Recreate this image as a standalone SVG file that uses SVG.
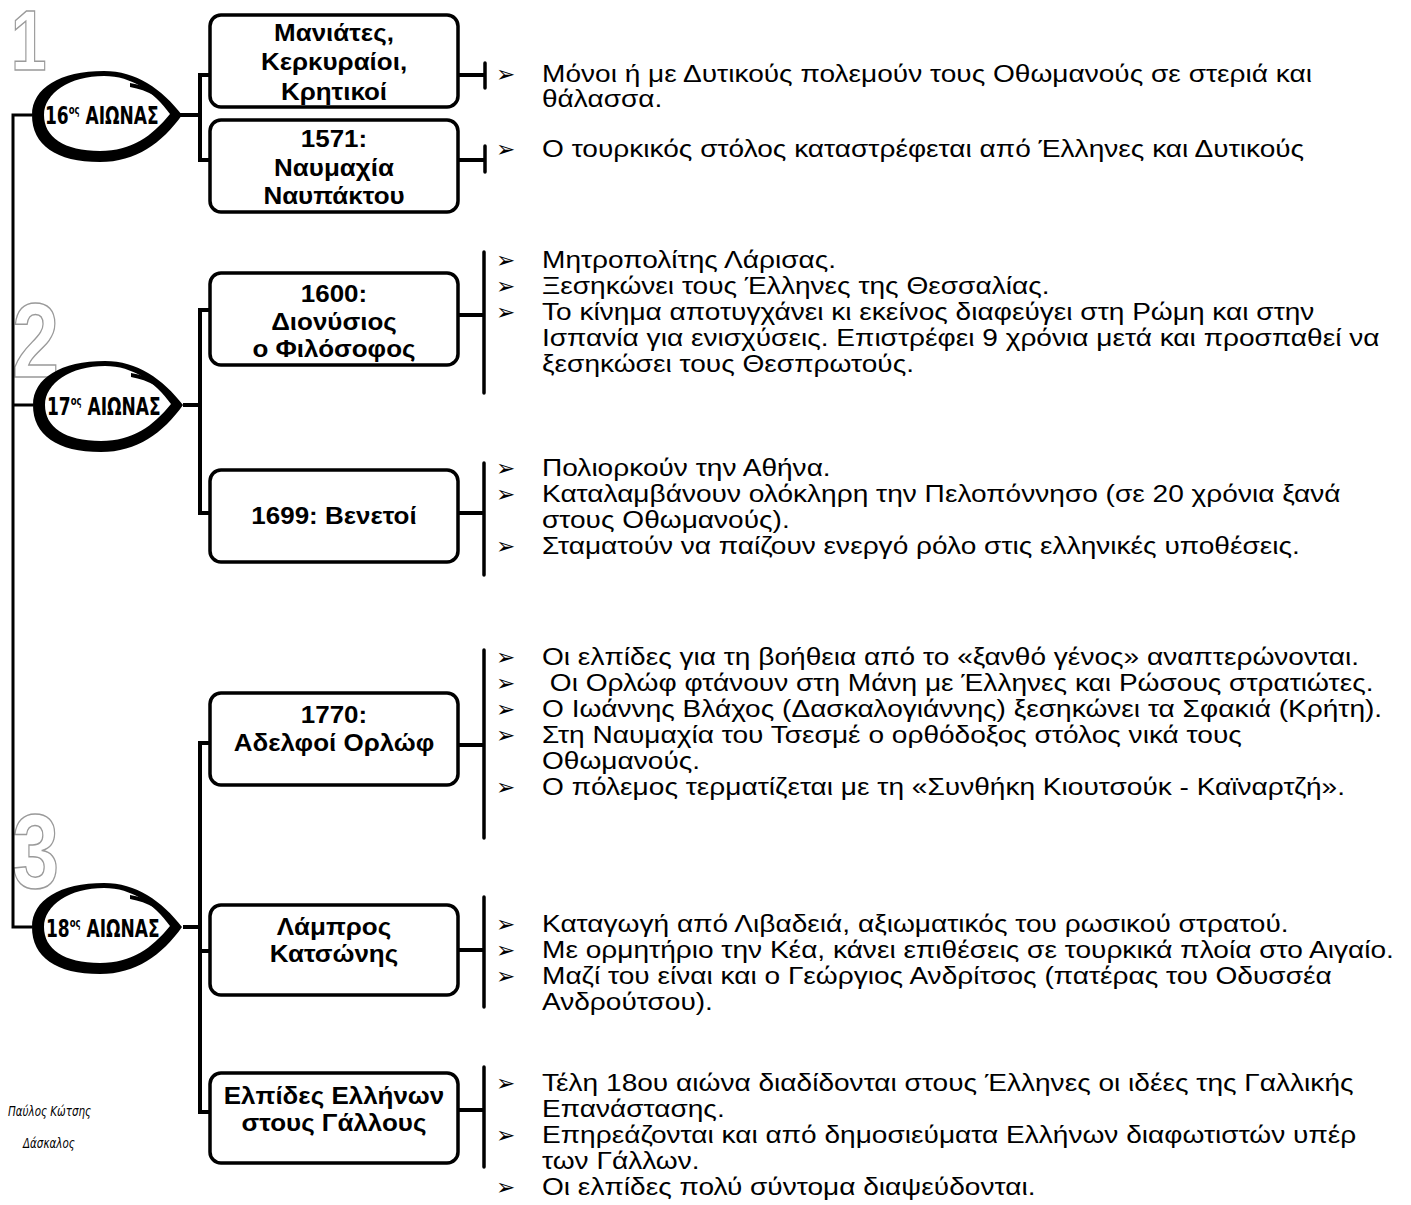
<svg xmlns="http://www.w3.org/2000/svg" width="1411" height="1205" viewBox="0 0 1411 1205">
<style>
.box{fill:#fff;stroke:#000;stroke-width:3.5}
.conn{fill:none;stroke:#000;stroke-width:4;stroke-linecap:square}
.spine{fill:none;stroke:#000;stroke-width:3}
.bar{fill:none;stroke:#000;stroke-width:3.5;stroke-linecap:round}
.bt{font-family:"Liberation Sans",Arial,sans-serif;font-weight:bold;font-size:24.5px;text-anchor:middle;fill:#000}
.t{font-family:"Liberation Sans",Arial,sans-serif;font-size:24px;fill:#000}
.bul{font-family:"DejaVu Sans",sans-serif;font-size:23px;fill:#000}
.cen{font-family:"DejaVu Sans Condensed","DejaVu Sans",sans-serif;font-weight:bold;font-size:24px;fill:#000}
.sup{font-size:12px}
.num{font-family:"Liberation Sans",Arial,sans-serif;font-weight:bold;fill:#fff;stroke:#9a9a9a;stroke-width:1.5}
.auth{font-family:"DejaVu Sans Condensed","DejaVu Sans",sans-serif;font-style:italic;font-size:14px;fill:#000}
</style>
<defs>
<path id="eye" fill-rule="evenodd" d="M0,0 C0,-27 28,-44 72,-44 C104,-44 130,-26 150,0 C130,28 104,47 68,47 C24,47 0,30 0,0 Z M12,0 C12,-22 38,-39 72,-39 C100,-39 122,-23 138,-1 C120,21 100,36 68,36 C32,36 12,22 12,0 Z"/>
<path id="swoosh" d="M98,-32 C118,-29 133,-19 142,-5 C130,-16 116,-25 98,-28 Z"/>
<clipPath id="clipB1"><rect x="212" y="17" width="244" height="88" rx="9"/></clipPath>
</defs>

<g id="numbers">
<text class="num" font-size="85" transform="translate(11,70) scale(0.75,1)">1</text>
<text class="num" font-size="106" transform="translate(12,377) scale(0.8,1)">2</text>
<text class="num" font-size="106" transform="translate(12,888) scale(0.8,1)">3</text>
</g>

<g id="connectors">
<polyline class="spine" points="32,115 13,115 13,927 32,927"/>
<line class="spine" x1="13" y1="405" x2="33" y2="405"/>
<line class="conn" x1="180" y1="115" x2="200" y2="115"/>
<polyline class="conn" points="210,75 200,75 200,160 210,160"/>
<line class="conn" x1="458" y1="75" x2="484" y2="75"/>
<line class="bar" x1="485" y1="63" x2="485" y2="88"/>
<line class="conn" x1="458" y1="160" x2="484" y2="160"/>
<line class="bar" x1="485" y1="146" x2="485" y2="172"/>
<line class="conn" x1="185" y1="405" x2="200" y2="405"/>
<polyline class="conn" points="210,310 200,310 200,513 210,513"/>
<line class="conn" x1="458" y1="315" x2="483" y2="315"/>
<line class="bar" x1="484" y1="252" x2="484" y2="393"/>
<line class="conn" x1="458" y1="513" x2="483" y2="513"/>
<line class="bar" x1="484" y1="463" x2="484" y2="575"/>
<line class="conn" x1="185" y1="927" x2="200" y2="927"/>
<polyline class="conn" points="210,743 200,743 200,1112 210,1112"/>
<line class="conn" x1="200" y1="951" x2="210" y2="951"/>
<line class="conn" x1="458" y1="745" x2="483" y2="745"/>
<line class="bar" x1="484" y1="650" x2="484" y2="838"/>
<line class="conn" x1="458" y1="950" x2="483" y2="950"/>
<line class="bar" x1="484" y1="897" x2="484" y2="1007"/>
<line class="conn" x1="458" y1="1110" x2="483" y2="1110"/>
<line class="bar" x1="484" y1="1067" x2="484" y2="1167"/>
</g>

<g id="c16">
<use href="#eye" transform="translate(32,115)"/>
<use href="#swoosh" transform="translate(32,115)"/>
<text class="cen" transform="translate(45,124) scale(0.79,1)">16<tspan class="sup" dy="-10">ος</tspan><tspan dy="10"> ΑΙΩΝΑΣ</tspan></text>
</g>
<g id="c17">
<use href="#eye" transform="translate(33,405)"/>
<use href="#swoosh" transform="translate(33,405)"/>
<text class="cen" transform="translate(47,415) scale(0.79,1)">17<tspan class="sup" dy="-10">ος</tspan><tspan dy="10"> ΑΙΩΝΑΣ</tspan></text>
</g>
<g id="c18">
<use href="#eye" transform="translate(32,927)"/>
<use href="#swoosh" transform="translate(32,927)"/>
<text class="cen" transform="translate(46,937) scale(0.79,1)">18<tspan class="sup" dy="-10">ος</tspan><tspan dy="10"> ΑΙΩΝΑΣ</tspan></text>
</g>

<g id="b1">
<rect class="box" x="210" y="15" width="248" height="92" rx="11"/>
<g clip-path="url(#clipB1)">
<text class="bt" transform="translate(334,0) scale(1.06,1)"><tspan x="0" y="41">Μανιάτες,</tspan><tspan x="0" y="70">Κερκυραίοι,</tspan><tspan x="0" y="100">Κρητικοί</tspan></text>
</g>
</g>
<g id="b2">
<rect class="box" x="210" y="120" width="248" height="92" rx="11"/>
<text class="bt" transform="translate(334,0) scale(1.06,1)"><tspan x="0" y="147">1571:</tspan><tspan x="0" y="176">Ναυμαχία</tspan><tspan x="0" y="204">Ναυπάκτου</tspan></text>
</g>
<g id="b3">
<rect class="box" x="210" y="273" width="248" height="92" rx="11"/>
<text class="bt" transform="translate(334,0) scale(1.06,1)"><tspan x="0" y="302">1600:</tspan><tspan x="0" y="330">Διονύσιος</tspan><tspan x="0" y="357">ο Φιλόσοφος</tspan></text>
</g>
<g id="b4">
<rect class="box" x="210" y="470" width="248" height="92" rx="11"/>
<text class="bt" transform="translate(334,0) scale(1.06,1)" x="0" y="524">1699: Βενετοί</text>
</g>
<g id="b5">
<rect class="box" x="210" y="693" width="248" height="92" rx="11"/>
<text class="bt" transform="translate(334,0) scale(1.06,1)"><tspan x="0" y="723">1770:</tspan><tspan x="0" y="751">Αδελφοί Ορλώφ</tspan></text>
</g>
<g id="b6">
<rect class="box" x="210" y="905" width="248" height="90" rx="11"/>
<text class="bt" transform="translate(334,0) scale(1.06,1)"><tspan x="0" y="935">Λάμπρος</tspan><tspan x="0" y="962">Κατσώνης</tspan></text>
</g>
<g id="b7">
<rect class="box" x="210" y="1073" width="248" height="90" rx="11"/>
<text class="bt" transform="translate(334,0) scale(1.06,1)"><tspan x="0" y="1104">Ελπίδες Ελλήνων</tspan><tspan x="0" y="1131">στους Γάλλους</tspan></text>
</g>

<g id="notes16">
<text class="bul" x="496" y="82">➢</text>
<text class="t" transform="translate(542,0) scale(1.17,1)"><tspan x="0" y="82">Μόνοι ή με Δυτικούς πολεμούν τους Οθωμανούς σε στεριά και</tspan><tspan x="0" y="107">θάλασσα.</tspan></text>
<text class="bul" x="496" y="157">➢</text>
<text class="t" transform="translate(542,0) scale(1.17,1)" x="0" y="157">Ο τουρκικός στόλος καταστρέφεται από Έλληνες και Δυτικούς</text>
</g>

<g id="notes1600">
<text class="bul" x="496" y="268">➢</text>
<text class="bul" x="496" y="294">➢</text>
<text class="bul" x="496" y="320">➢</text>
<text class="t" transform="translate(542,0) scale(1.17,1)"><tspan x="0" y="268">Μητροπολίτης Λάρισας.</tspan><tspan x="0" y="294">Ξεσηκώνει τους Έλληνες της Θεσσαλίας.</tspan><tspan x="0" y="320">Το κίνημα αποτυγχάνει κι εκείνος διαφεύγει στη Ρώμη και στην</tspan><tspan x="0" y="346">Ισπανία για ενισχύσεις. Επιστρέφει 9 χρόνια μετά και προσπαθεί να</tspan><tspan x="0" y="372">ξεσηκώσει τους Θεσπρωτούς.</tspan></text>
</g>

<g id="notes1699">
<text class="bul" x="496" y="476">➢</text>
<text class="bul" x="496" y="502">➢</text>
<text class="bul" x="496" y="554">➢</text>
<text class="t" transform="translate(542,0) scale(1.17,1)"><tspan x="0" y="476">Πολιορκούν την Αθήνα.</tspan><tspan x="0" y="502">Καταλαμβάνουν ολόκληρη την Πελοπόννησο (σε 20 χρόνια ξανά</tspan><tspan x="0" y="528">στους Οθωμανούς).</tspan><tspan x="0" y="554">Σταματούν να παίζουν ενεργό ρόλο στις ελληνικές υποθέσεις.</tspan></text>
</g>

<g id="notes1770">
<text class="bul" x="496" y="665">➢</text>
<text class="bul" x="496" y="691">➢</text>
<text class="bul" x="496" y="717">➢</text>
<text class="bul" x="496" y="743">➢</text>
<text class="bul" x="496" y="795">➢</text>
<text class="t" xml:space="preserve" transform="translate(542,0) scale(1.17,1)"><tspan x="0" y="665">Οι ελπίδες για τη βοήθεια από το «ξανθό γένος» αναπτερώνονται.</tspan><tspan x="0" y="691"> Οι Ορλώφ φτάνουν στη Μάνη με Έλληνες και Ρώσους στρατιώτες.</tspan><tspan x="0" y="717">Ο Ιωάννης Βλάχος (Δασκαλογιάννης) ξεσηκώνει τα Σφακιά (Κρήτη).</tspan><tspan x="0" y="743">Στη Ναυμαχία του Τσεσμέ ο ορθόδοξος στόλος νικά τους</tspan><tspan x="0" y="769">Οθωμανούς.</tspan><tspan x="0" y="795">Ο πόλεμος τερματίζεται με τη «Συνθήκη Κιουτσούκ - Καϊναρτζή».</tspan></text>
</g>

<g id="notesKatsonis">
<text class="bul" x="496" y="932">➢</text>
<text class="bul" x="496" y="958">➢</text>
<text class="bul" x="496" y="984">➢</text>
<text class="t" transform="translate(542,0) scale(1.17,1)"><tspan x="0" y="932">Καταγωγή από Λιβαδειά, αξιωματικός του ρωσικού στρατού.</tspan><tspan x="0" y="958">Με ορμητήριο την Κέα, κάνει επιθέσεις σε τουρκικά πλοία στο Αιγαίο.</tspan><tspan x="0" y="984">Μαζί του είναι και ο Γεώργιος Ανδρίτσος (πατέρας του Οδυσσέα</tspan><tspan x="0" y="1010">Ανδρούτσου).</tspan></text>
</g>

<g id="notesFrance">
<text class="bul" x="496" y="1091">➢</text>
<text class="bul" x="496" y="1143">➢</text>
<text class="bul" x="496" y="1195">➢</text>
<text class="t" transform="translate(542,0) scale(1.17,1)"><tspan x="0" y="1091">Τέλη 18ου αιώνα διαδίδονται στους Έλληνες οι ιδέες της Γαλλικής</tspan><tspan x="0" y="1117">Επανάστασης.</tspan><tspan x="0" y="1143">Επηρεάζονται και από δημοσιεύματα Ελλήνων διαφωτιστών υπέρ</tspan><tspan x="0" y="1169">των Γάλλων.</tspan><tspan x="0" y="1195">Οι ελπίδες πολύ σύντομα διαψεύδονται.</tspan></text>
</g>

<g id="author">
<text class="auth" transform="translate(8,1116) scale(0.82,1)">Παύλος Κώτσης</text>
<text class="auth" transform="translate(23,1148) scale(0.82,1)">Δάσκαλος</text>
</g>
</svg>
